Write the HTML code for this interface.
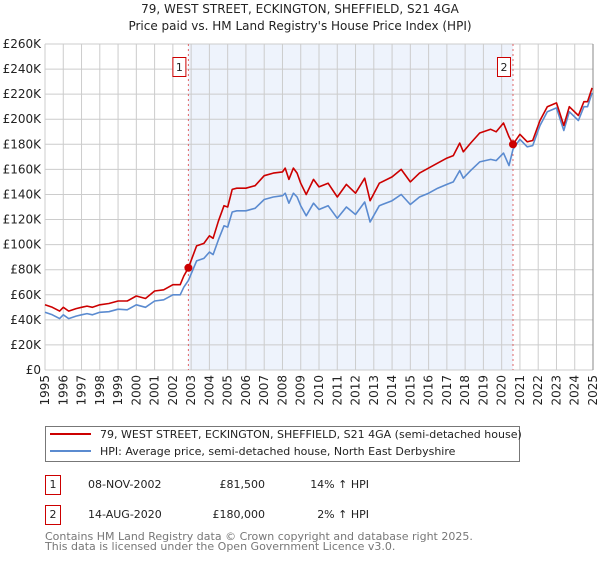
<!DOCTYPE html>
<html><head><meta charset="utf-8">
<style>
body{margin:0;background:#fff;font-family:"DejaVu Sans","Liberation Sans",sans-serif;}
svg text{font-family:"DejaVu Sans","Liberation Sans",sans-serif;}
</style></head>
<body>
<svg id="chart" width="600" height="560" viewBox="0 0 600 560" xmlns="http://www.w3.org/2000/svg">
<text x="300" y="13" font-size="12" text-anchor="middle" fill="#222">79, WEST STREET, ECKINGTON, SHEFFIELD, S21 4GA</text>
<text x="300" y="30" font-size="12" text-anchor="middle" fill="#222">Price paid vs. HM Land Registry's House Price Index (HPI)</text>
<g id="plot"></g>
<g>
<rect x="45.5" y="426.5" width="474" height="35" fill="#fff" stroke="#777"/>
<line x1="50" y1="434" x2="91" y2="434" stroke="#cc0000" stroke-width="2"/>
<text x="100" y="438" font-size="11" fill="#222">79, WEST STREET, ECKINGTON, SHEFFIELD, S21 4GA (semi-detached house)</text>
<line x1="50" y1="451" x2="91" y2="451" stroke="#5b8bd0" stroke-width="2"/>
<text x="100" y="455" font-size="11" fill="#222">HPI: Average price, semi-detached house, North East Derbyshire</text>
</g>
<g font-size="11" fill="#222">
<rect x="45.5" y="475.5" width="15" height="19" fill="#fff" stroke="#cc0000"/>
<text x="53" y="488" text-anchor="middle">1</text>
<text x="88" y="488">08-NOV-2002</text>
<text x="265" y="488" text-anchor="end">£81,500</text>
<text x="369" y="488" text-anchor="end">14% ↑ HPI</text>
<rect x="45.5" y="505.5" width="15" height="19" fill="#fff" stroke="#cc0000"/>
<text x="53" y="518" text-anchor="middle">2</text>
<text x="88" y="518">14-AUG-2020</text>
<text x="265" y="518" text-anchor="end">£180,000</text>
<text x="369" y="518" text-anchor="end">2% ↑ HPI</text>
</g>
<text x="45" y="540" font-size="11" fill="#777">Contains HM Land Registry data © Crown copyright and database right 2025.</text>
<text x="45" y="550" font-size="11" fill="#777">This data is licensed under the Open Government Licence v3.0.</text>
</svg>
<script>
const years=[1995.0,1995.4,1995.8,1996.0,1996.3,1996.7,1997.0,1997.3,1997.6,1998.0,1998.5,1999.0,1999.5,2000.0,2000.5,2001.0,2001.5,2002.0,2002.4,2002.6,2002.85,2003.3,2003.7,2004.0,2004.2,2004.5,2004.8,2005.0,2005.25,2005.5,2006.0,2006.5,2007.0,2007.5,2008.0,2008.15,2008.35,2008.6,2008.8,2009.0,2009.3,2009.7,2010.0,2010.5,2011.0,2011.5,2012.0,2012.5,2012.8,2013.3,2014.0,2014.5,2015.0,2015.5,2016.0,2016.5,2017.0,2017.35,2017.7,2017.9,2018.3,2018.8,2019.4,2019.7,2020.1,2020.4,2020.62,2021.0,2021.4,2021.7,2022.1,2022.5,2023.0,2023.4,2023.7,2024.2,2024.5,2024.7,2024.95];
const hpi=[46,44,41,44,41,43,44,45,44,46,46.5,48.5,48,52,50,55,56,60,60,66,71.5,87,89,94,92,104,115,114,126,127,127,129,136,138,139,141,133,141,138,131,123,133,128,131,121,130,124,134,118,131,135,140,132,138,141,145,148,150,159,153,159,166,168,167,173,163,176,184,178,179,195,206,209,191,206,199,210,210,221];
const property=[52,50,47,50,47,49,50,51,50,52,53,55,55,59,57,63,64,68,68,75,81.5,99,101,107,105,119,131,130,144,145,145,147,155,157,158,161,152,161,157,149,140,152,146,149,138,148,141,153,135,149,154,160,150,157,161,165,169,171,181,174,181,189,192,190,197,186,180,188,182,183,199,210,213,195,210,203,214,214,225];
const saleYears=[2002.85,2020.62];
const salePrices=[81.5,180];
const saleLabels=["1","2"];
const yTicks=[0,20,40,60,80,100,120,140,160,180,200,220,240,260];
const yTickLabels=["£0","£20K","£40K","£60K","£80K","£100K","£120K","£140K","£160K","£180K","£200K","£220K","£240K","£260K"];
const xTicks=[1995,1996,1997,1998,1999,2000,2001,2002,2003,2004,2005,2006,2007,2008,2009,2010,2011,2012,2013,2014,2015,2016,2017,2018,2019,2020,2021,2022,2023,2024,2025];

const L=45,R=593,T=44,B=370;
const xs=y=>L+(y-1995)/30*(R-L);
const ys=v=>B-v/260*(B-T);
const NS="http://www.w3.org/2000/svg";
const plot=document.getElementById('plot');
function mk(tag,attrs,parent){const e=document.createElementNS(NS,tag);for(const k in attrs)e.setAttribute(k,attrs[k]);(parent||plot).appendChild(e);return e;}

let bg=mk('rect',{x:L,y:T,width:R-L,height:B-T,fill:'#fff'});


let sh=mk('rect',{x:xs(saleYears[0]),y:T,width:xs(saleYears[1])-xs(saleYears[0]),height:B-T,fill:'#eef3fc'});



yTicks.forEach((v,i)=>{
  let g=mk('line',{x1:L,x2:R,y1:ys(v),y2:ys(v),stroke:'#cccccc','stroke-width':1});
  
  
  let t=mk('text',{x:L-4,y:ys(v)+4,'font-size':12,'text-anchor':'end',fill:'#222'});
  t.textContent=yTickLabels[i];
  
  
});
xTicks.forEach(y=>{
  let g=mk('line',{x1:xs(y),x2:xs(y),y1:T,y2:B,stroke:'#cccccc','stroke-width':1});
  
  
  let t=mk('text',{x:0,y:0,'font-size':12,'text-anchor':'end',fill:'#222',transform:`translate(${xs(y)+4},${B+5}) rotate(-90)`});
  t.textContent=y;
  
  
});
let ax=mk('line',{x1:R,x2:R,y1:T,y2:B,stroke:'#888','stroke-width':1});



saleYears.forEach((y,i)=>{
  let l=mk('line',{x1:xs(y),x2:xs(y),y1:T,y2:B,stroke:'#e06666','stroke-width':1,'stroke-dasharray':'2,3'});
  
  
});

function path(arr,color,name){
  const d=years.map((y,i)=>(i?'L':'M')+xs(y).toFixed(1)+','+ys(arr[i]).toFixed(1)).join('');
  let p=mk('path',{d:d,fill:'none',stroke:color,'stroke-width':1.6,'stroke-linejoin':'round'});
  
  
}
path(hpi,'#5b8bd0','hpi-line');
path(property,'#cc0000','property-line');

saleYears.forEach((y,i)=>{
  let c=mk('circle',{cx:xs(y),cy:ys(salePrices[i]),r:4,fill:'#cc0000'});
  
  
  let bx=mk('rect',{x:xs(y)-15.5,y:57.5,width:13,height:19,fill:'#fff',stroke:'#cc0000'});
  
  
  let t=mk('text',{x:xs(y)-9,y:71,'font-size':11,'text-anchor':'middle',fill:'#222'});
  t.textContent=saleLabels[i];
  
  
});
</script>
</body></html>
